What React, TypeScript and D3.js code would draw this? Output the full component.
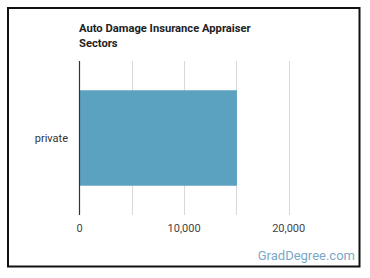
import React, { useEffect, useRef } from 'react';
import * as d3 from 'd3';

const categories = ['private'];
const values = [15050];
const tickValues = [0, 10000, 20000];
const gridValues = [0, 5000, 10000, 15000, 20000];
const titleLines = ['Auto Damage Insurance Appraiser', 'Sectors'];

export default function App() {
  const ref = useRef<SVGSVGElement>(null);

  useEffect(() => {
    const svg = d3.select(ref.current);
    svg.selectAll('*').remove();

    const top = 61, bottom = 215;
    const x = d3.scaleLinear().domain([0, 20000]).range([79.5, 288.7]);
    const y = d3.scaleBand().domain(categories).range([top, bottom]).paddingInner(0.38).paddingOuter(0.19);

    // frame
    svg.append('rect')
      .attr('x', 8).attr('y', 8).attr('width', 351.5).attr('height', 258.5)
      .attr('fill', 'white').attr('stroke', '#111').attr('stroke-width', 2);

    // title
    svg.append('g').selectAll('text')
      .data(titleLines)
      .join('text')
      .attr('x', 79)
      .attr('y', (d, i) => 32 + i * 14.5)
      .attr('font-family', 'Roboto, sans-serif')
      .attr('font-weight', 'bold')
      .attr('font-size', 11.2)
      .attr('fill', '#222')
      .text(d => d);

    // grid
    svg.append('g').selectAll('line')
      .data(gridValues.slice(1))
      .join('line')
      .attr('x1', d => Math.round(x(d)) + 0.5)
      .attr('x2', d => Math.round(x(d)) + 0.5)
      .attr('y1', top).attr('y2', bottom)
      .attr('stroke', '#d9d9d9').attr('stroke-width', 1);

    // bars
    svg.append('g').selectAll('rect')
      .data(values)
      .join('rect')
      .attr('x', x(0))
      .attr('y', (d, i) => y(categories[i])!)
      .attr('width', d => x(d) - x(0))
      .attr('height', y.bandwidth())
      .attr('fill', '#5ba1c0');

    // axis line
    svg.append('line')
      .attr('x1', x(0)).attr('x2', x(0))
      .attr('y1', top).attr('y2', bottom)
      .attr('stroke', '#333').attr('stroke-width', 1.2);

    // category labels
    svg.append('g').selectAll('text')
      .data(categories)
      .join('text')
      .attr('x', 68)
      .attr('y', d => y(d)! + y.bandwidth() / 2 + 4)
      .attr('text-anchor', 'end')
      .attr('font-family', 'Roboto, sans-serif')
      .attr('font-size', 11)
      .attr('fill', '#333')
      .text(d => d);

    // x tick labels
    svg.append('g').selectAll('text')
      .data(tickValues)
      .join('text')
      .attr('x', d => x(d))
      .attr('y', 232)
      .attr('text-anchor', 'middle')
      .attr('font-family', 'Roboto, sans-serif')
      .attr('font-size', 11)
      .attr('fill', '#444')
      .text(d => d3.format(',')(d));

    // watermark
    svg.append('text')
      .attr('x', 355).attr('y', 260)
      .attr('text-anchor', 'end')
      .attr('font-family', 'Roboto, sans-serif')
      .attr('font-size', 13)
      .attr('fill', '#7aa8c8')
      .text('GradDegree.com');
  }, []);

  return (
    <svg ref={ref} width={370} height={278}
      style={{ position: 'absolute', left: 0, top: 0, display: 'block' }} />
  );
}
